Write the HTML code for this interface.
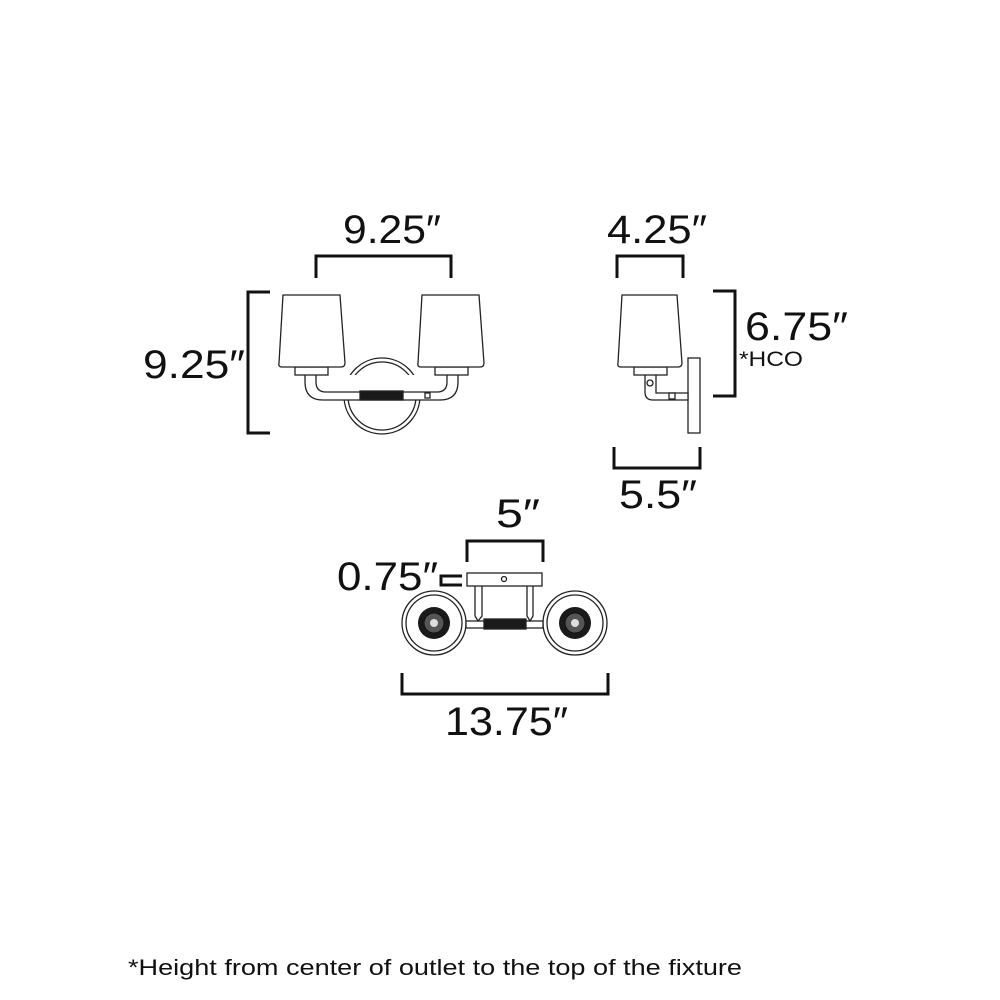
<!DOCTYPE html>
<html><head><meta charset="utf-8"><style>
html,body{margin:0;padding:0;background:#fff}
svg{display:block}
text{font-family:"Liberation Sans",sans-serif;fill:#111}
</style></head><body>
<svg width="1000" height="1000" viewBox="0 0 1000 1000" xmlns="http://www.w3.org/2000/svg">
<g fill="none" stroke="#111" stroke-width="3">
<!-- front brackets -->
<path d="M316 278 V256 H451 V278"/>
<path d="M270 292 H248 V433 H270"/>
<!-- side brackets -->
<path d="M617 278 V256 H683 V278"/>
<path d="M713 291 H735 V396 H713"/>
<path d="M614 447 V468 H700 V447"/>
<!-- top view brackets -->
<path d="M467 562 V541 H543 V562"/>
<path d="M462 576 H441 V585 H462"/>
<path d="M402 673 V694 H608 V673"/>
</g>
<g fill="#fff" stroke="#222" stroke-width="1.3">
<!-- FRONT VIEW -->
<circle cx="382" cy="396" r="38"/>
<circle cx="382" cy="396" r="34"/>
<path d="M305 375 V382 Q305 400 323 400 H440 Q458 400 458 382 V375"/>
<path d="M316 375 V382 Q316 392 326 392 H437 Q447 392 447 382 V375"/>
<rect x="360" y="391" width="43" height="9" fill="#1a1a1a"/>
<rect x="425" y="393" width="5" height="5"/>
<rect x="295" y="367" width="33" height="8"/>
<rect x="435" y="367" width="33" height="8"/>
<path d="M283 295 H340 L345 363 Q345 367 341 367 H282 Q278 367 279 363 Z"/>
<path d="M422 295 H479 L484 363 Q484 367 480 367 H421 Q417 367 418 363 Z"/>
<!-- SIDE VIEW -->
<rect x="688" y="358" width="12" height="75"/>
<path d="M645 375 V392 Q645 400 653 400 H688 V393 H656 V375"/>
<circle cx="650" cy="383" r="3"/>
<rect x="669" y="393" width="6" height="6"/>
<rect x="634" y="367" width="33" height="8"/>
<path d="M622 295 H677 L682 363 Q682 367 678 367 H621 Q617 367 618 363 Z"/>
<!-- TOP VIEW -->
<circle cx="434" cy="623" r="32"/>
<circle cx="434" cy="623" r="28"/>
<circle cx="575" cy="623" r="32"/>
<circle cx="575" cy="623" r="28"/>
<rect x="466" y="621" width="77" height="7"/>
<path d="M475 586 V616 L478 621 L482 616 V586"/>
<path d="M527 586 V616 L530 621 L533 616 V586"/>
<rect x="467" y="573" width="75" height="13"/>
<circle cx="504" cy="579" r="2.5"/>
<rect x="484" y="619" width="42" height="10" fill="#1a1a1a"/>
</g>
<g>
<circle cx="434" cy="623" r="16" fill="#1a1a1a"/>
<circle cx="434" cy="623" r="10" fill="#555" stroke="#111"/>
<circle cx="434" cy="623" r="4" fill="#ddd"/>
<circle cx="575" cy="623" r="16" fill="#1a1a1a"/>
<circle cx="575" cy="623" r="10" fill="#555" stroke="#111"/>
<circle cx="575" cy="623" r="4" fill="#ddd"/>
</g>
<g font-size="40">
<text x="343" y="243" textLength="98" lengthAdjust="spacingAndGlyphs">9.25″</text>
<text x="143" y="378" textLength="102" lengthAdjust="spacingAndGlyphs">9.25″</text>
<text x="607" y="243" textLength="100" lengthAdjust="spacingAndGlyphs">4.25″</text>
<text x="745" y="340" textLength="103" lengthAdjust="spacingAndGlyphs">6.75″</text>
<text x="619" y="508" textLength="78" lengthAdjust="spacingAndGlyphs">5.5″</text>
<text x="496" y="527" textLength="44" lengthAdjust="spacingAndGlyphs">5″</text>
<text x="337" y="590" textLength="101" lengthAdjust="spacingAndGlyphs">0.75″</text>
<text x="445" y="735" textLength="123" lengthAdjust="spacingAndGlyphs">13.75″</text>
</g>
<text x="739" y="366" font-size="21" textLength="64" lengthAdjust="spacingAndGlyphs">*HCO</text>
<text x="128" y="975" font-size="22" textLength="614" lengthAdjust="spacingAndGlyphs">*Height from center of outlet to the top of the fixture</text>
</svg>
</body></html>
